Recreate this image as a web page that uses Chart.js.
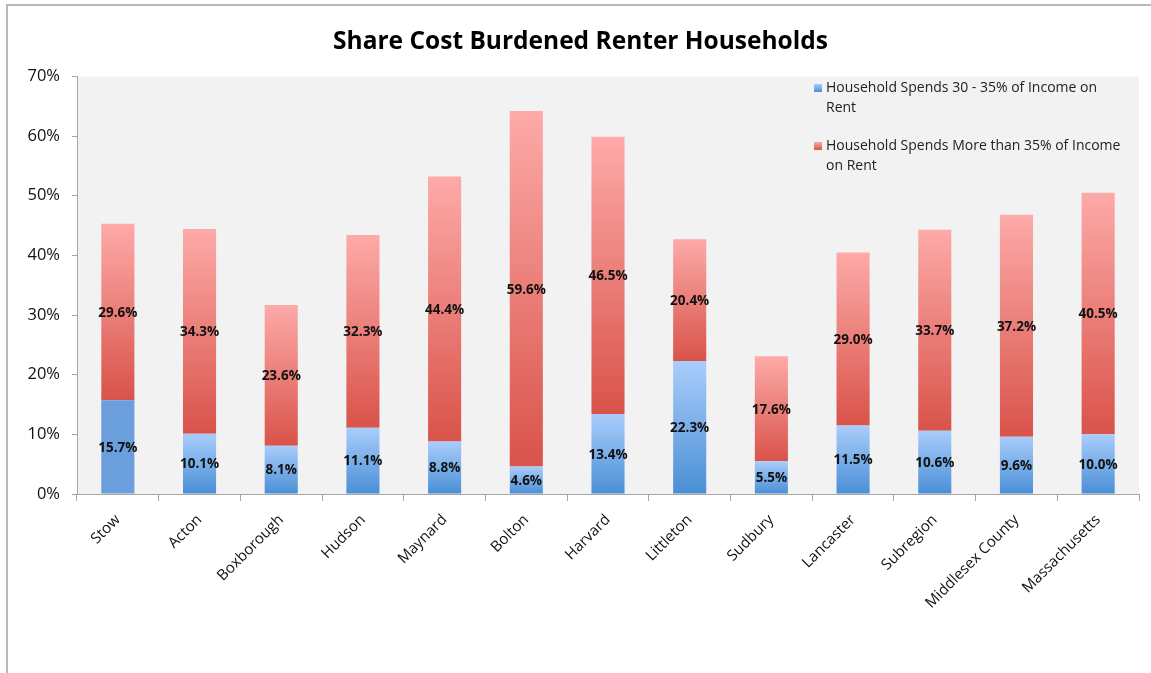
<!DOCTYPE html>
<html>
<head>
<meta charset="utf-8">
<script src="https://cdn.jsdelivr.net/npm/chart.js@4/dist/chart.umd.min.js"></script>
<style>
  html, body { margin: 0; padding: 0; background: #ffffff; }
  #wrap { width: 1151px; height: 673px; }
</style>
</head>
<body>
<div id="wrap"><canvas id="c" width="1151" height="673"></canvas></div>
<script>
const categories = ["Stow", "Acton", "Boxborough", "Hudson", "Maynard", "Bolton", "Harvard", "Littleton", "Sudbury", "Lancaster", "Subregion", "Middlesex County", "Massachusetts"];
const spends30to35 = [15.7, 10.1, 8.1, 11.1, 8.8, 4.6, 13.4, 22.3, 5.5, 11.5, 10.6, 9.6, 10.0];
const spendsOver35 = [29.6, 34.3, 23.6, 32.3, 44.4, 59.6, 46.5, 20.4, 17.6, 29.0, 33.7, 37.2, 40.5];
const seriesNames = ["Household Spends 30 - 35% of Income on Rent", "Household Spends More than 35% of Income on Rent"];
const legendLines = [["Household Spends 30 - 35% of Income on", "Rent"], ["Household Spends More than 35% of Income", "on Rent"]];
const titleText = "Share Cost Burdened Renter Households";
const yTicks = [0, 10, 20, 30, 40, 50, 60, 70];

const FONT = "'Open Sans', 'DejaVu Sans', sans-serif";

function segGradient(ctx, dsIndex, top, bottom) {
  const chart = ctx.chart;
  const area = chart.chartArea;
  if (!area) return top;
  const i = ctx.dataIndex;
  if (i === undefined) return top;
  const ys = chart.scales.y;
  let lo = 0;
  if (dsIndex === 1) lo = spends30to35[i];
  const hi = lo + (dsIndex === 0 ? spends30to35[i] : spendsOver35[i]);
  const yTop = ys.getPixelForValue(hi);
  const yBot = ys.getPixelForValue(lo);
  const g = chart.ctx.createLinearGradient(0, yTop, 0, yBot);
  g.addColorStop(0, top);
  g.addColorStop(1, bottom);
  return g;
}

const bgPlugin = {
  id: 'bgPlugin',
  beforeDraw(chart) {
    const c = chart.ctx;
    const a = chart.chartArea;
    c.save();
    c.fillStyle = '#ffffff';
    c.fillRect(0, 0, chart.width, chart.height);
    c.strokeStyle = '#b9b9b9';
    c.lineWidth = 2;
    c.beginPath();
    c.moveTo(7, chart.height + 5);
    c.lineTo(7, 5);
    c.lineTo(chart.width + 5, 5);
    c.stroke();
    c.fillStyle = '#f2f2f2';
    c.fillRect(a.left, a.top, a.right - a.left, a.bottom - a.top);
    c.restore();
  }
};

const labelPlugin = {
  id: 'labelPlugin',
  afterDatasetsDraw(chart) {
    const c = chart.ctx;
    c.save();
    c.font = "bold 13.5px " + FONT;
    c.fillStyle = '#111111';
    c.textAlign = 'center';
    c.textBaseline = 'middle';
    const sets = [spends30to35, spendsOver35];
    sets.forEach((vals, di) => {
      const meta = chart.getDatasetMeta(di);
      meta.data.forEach((el, i) => {
        const p = el.getProps(['x', 'y', 'base'], true);
        c.fillText(vals[i].toFixed(1) + '%', p.x, (p.y + p.base) / 2 + 1);
      });
    });
    // legend
    const markerColors = [['#a9cdfb', '#4a8fd6'], ['#fdaaa8', '#d9534a']];
    const entryY = [88, 146];
    c.font = "14px " + FONT;
    c.textAlign = 'left';
    c.fillStyle = '#222222';
    legendLines.forEach((lines, k) => {
      const y0 = entryY[k];
      const g = c.createLinearGradient(0, y0 - 4, 0, y0 + 4);
      g.addColorStop(0, markerColors[k][0]);
      g.addColorStop(1, markerColors[k][1]);
      c.fillStyle = g;
      c.fillRect(814, y0 - 4, 8, 8);
      c.fillStyle = '#222222';
      lines.forEach((ln, j) => c.fillText(ln, 826, y0 + j * 20));
    });
    c.restore();
  }
};

new Chart(document.getElementById('c'), {
  type: 'bar',
  data: {
    labels: categories,
    datasets: [
      {
        label: seriesNames[0],
        data: spends30to35,
        backgroundColor: (ctx) => (ctx.dataIndex === 0 ? '#6a9edc' : segGradient(ctx, 0, '#a9cdfb', '#4a8fd6')),
        borderWidth: 0,
        barPercentage: 0.405,
        categoryPercentage: 1.0
      },
      {
        label: seriesNames[1],
        data: spendsOver35,
        backgroundColor: (ctx) => segGradient(ctx, 1, '#fdaaa8', '#d9534a'),
        borderWidth: 0,
        barPercentage: 0.405,
        categoryPercentage: 1.0
      }
    ]
  },
  options: {
    responsive: false,
    animation: false,
    layout: { padding: { left: 22, top: 5, right: 12, bottom: 0 } },
    plugins: {
      legend: { display: false },
      tooltip: { enabled: false },
      title: {
        display: true,
        text: titleText,
        color: '#000000',
        font: { family: FONT, size: 24.5, weight: 'bold' },
        padding: { top: 22, bottom: 20 }
      }
    },
    scales: {
      x: {
        stacked: true,
        grid: { display: true, drawOnChartArea: false, drawTicks: true, tickLength: 7, color: '#a6a6a6', offset: true },
        border: { display: true, color: '#a6a6a6', width: 1 },
        ticks: {
          color: '#111111',
          font: { family: FONT, size: 15 },
          minRotation: 45,
          maxRotation: 45,
          autoSkip: false,
          padding: 10
        },
        afterFit(scale) { scale.height = 179; }
      },
      y: {
        stacked: true,
        min: 0,
        max: 70,
        afterBuildTicks(scale) { scale.ticks = yTicks.map(v => ({ value: v })); },
        grid: { display: true, drawOnChartArea: false, drawTicks: true, tickLength: 5, color: '#a6a6a6' },
        border: { display: true, color: '#a6a6a6', width: 1 },
        ticks: {
          color: '#111111',
          font: { family: FONT, size: 16.5 },
          padding: 12,
          callback: (v) => v + '%'
        },
        afterFit(scale) { scale.width = 55; }
      }
    }
  },
  plugins: [bgPlugin, labelPlugin]
});
</script>
</body>
</html>
